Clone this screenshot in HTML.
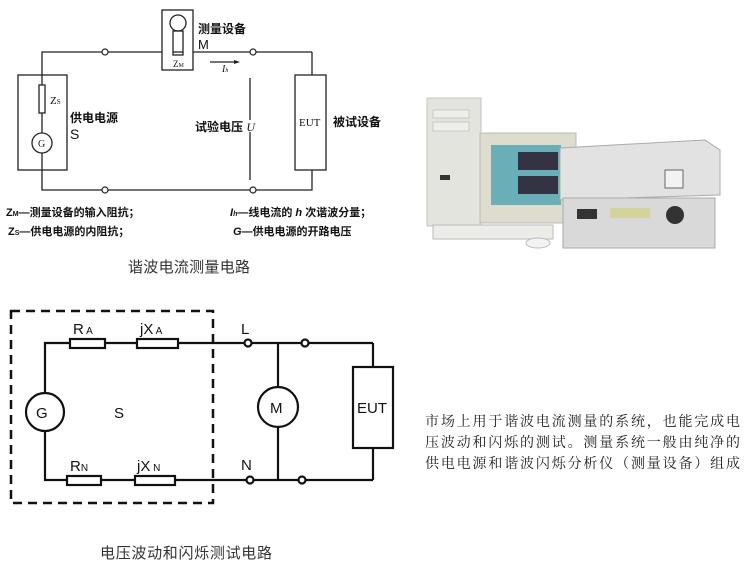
<!DOCTYPE html>
<html><head><meta charset="utf-8"><style>
body{margin:0;background:#fff;width:749px;height:563px;overflow:hidden;font-family:"Liberation Sans","Noto Sans CJK SC",sans-serif}
svg{position:absolute;left:0;top:0}
</style></head><body>
<svg width="749" height="563" xmlns="http://www.w3.org/2000/svg" font-family="Liberation Sans, Noto Sans CJK SC, sans-serif">
<g stroke="#222" stroke-width="1.3" fill="none">
<polyline points="42,75 42,52 162,52"/><line x1="193" y1="52" x2="312" y2="52"/><line x1="312" y1="52" x2="312" y2="75"/>
<polyline points="42,170 42,190 312,190 312,170"/>
<rect x="18" y="75" width="49" height="95"/>
<line x1="42" y1="75" x2="42" y2="85"/><rect x="39" y="85" width="6" height="28"/><line x1="42" y1="113" x2="42" y2="133"/>
<circle cx="42" cy="143" r="10"/><line x1="42" y1="153" x2="42" y2="170"/>
<rect x="162" y="10" width="31" height="60"/>
<circle cx="178" cy="23" r="8"/><rect x="173" y="31" width="10" height="24"/><line x1="173" y1="52" x2="183" y2="52"/>
<rect x="295" y="75" width="31" height="95"/>
<line x1="250" y1="78" x2="250" y2="120"/><line x1="250" y1="132" x2="250" y2="180"/>
<line x1="210" y1="62" x2="238" y2="62"/>
</g>
<polygon points="240,62 234,60 234,64" fill="#222"/>
<g fill="#fff" stroke="#222" stroke-width="1.2">
<circle cx="105" cy="52" r="3"/><circle cx="253" cy="52" r="3"/><circle cx="105" cy="190" r="3"/><circle cx="253" cy="190" r="3"/>
</g>
<g font-size="11" fill="#111">
<text x="38" y="147" font-size="10" font-family="Liberation Serif, serif">G</text>
<text x="50" y="104" font-family="Liberation Serif, serif">Z<tspan font-size="7">S</tspan></text>
<text x="70" y="122" font-size="12" font-weight="bold">供电电源</text>
<text x="70" y="139" font-size="14">S</text>
<text x="198" y="33" font-size="12" font-weight="bold">测量设备</text>
<text x="198" y="49" font-size="13">M</text>
<text x="173" y="67" font-size="9" font-family="Liberation Serif, serif">Z<tspan font-size="6">M</tspan></text>
<text x="222" y="72" font-size="10" font-style="italic" font-family="Liberation Serif, serif">I<tspan font-size="6">h</tspan></text>
<text x="195" y="131" font-size="12" font-weight="bold">试验电压 <tspan font-style="italic" font-weight="normal" font-family="Liberation Serif, serif">U</tspan></text>
<text x="299" y="126" font-size="11" font-family="Liberation Serif, serif">EUT</text>
<text x="333" y="126" font-size="12" font-weight="bold">被试设备</text>
<text x="6" y="216" font-size="11" font-weight="bold">Z<tspan font-size="7">M</tspan>—测量设备的输入阻抗；</text>
<text x="8" y="235" font-size="11" font-weight="bold">Z<tspan font-size="7">S</tspan>—供电电源的内阻抗；</text>
<text x="230" y="216" font-size="11" font-weight="bold"><tspan font-style="italic">I<tspan font-size="7">h</tspan></tspan>—线电流的 <tspan font-style="italic">h</tspan> 次谐波分量；</text>
<text x="233" y="235" font-size="11" font-weight="bold"><tspan font-style="italic">G</tspan>—供电电源的开路电压</text>
<text x="128" y="272" font-size="15" fill="#333" textLength="122">谐波电流测量电路</text>
</g>
<!-- photo -->
<g>
<rect x="427" y="98" width="54" height="128" fill="#e4e4de" stroke="#c4c4c0"/>
<rect x="433" y="110" width="36" height="8" fill="#eeeeea" stroke="#aaa" stroke-width=".5"/>
<rect x="433" y="122" width="36" height="9" fill="#eeeeea" stroke="#aaa" stroke-width=".5"/>
<rect x="440" y="175" width="10" height="5" fill="#333"/>
<rect x="480" y="133" width="96" height="90" fill="#dedccf" stroke="#bbb"/>
<rect x="491" y="145" width="70" height="60" fill="#6aaeb8"/>
<rect x="518" y="152" width="40" height="18" fill="#334"/>
<rect x="518" y="176" width="40" height="18" fill="#334"/>
<rect x="433" y="225" width="120" height="14" fill="#ececE8" stroke="#bbb"/>
<ellipse cx="538" cy="243" rx="12" ry="5" fill="#f2f2f2" stroke="#bbb"/>
<polygon points="560,148 705,140 720,150 720,195 560,200" fill="#e2e2e2" stroke="#aaa"/>
<rect x="563" y="198" width="152" height="50" fill="#d9d9d9" stroke="#aaa"/>
<rect x="610" y="208" width="40" height="10" fill="#d3d39a"/>
<circle cx="675" cy="215" r="9" fill="#333"/>
<rect x="577" y="209" width="20" height="10" fill="#333"/>
<rect x="665" y="170" width="18" height="18" fill="#f2f2f2" stroke="#666"/>
</g>
<!-- bottom circuit -->
<rect x="11" y="311" width="202" height="192" fill="none" stroke="#111" stroke-width="2.5" stroke-dasharray="9,6"/>
<g stroke="#111" stroke-width="2.2" fill="none">
<polyline points="45,393 45,343 70,343"/><line x1="105" y1="343" x2="137" y2="343"/><line x1="178" y1="343" x2="373" y2="343"/><line x1="373" y1="343" x2="373" y2="367"/>
<polyline points="45,431 45,480 67,480"/><line x1="101" y1="480" x2="135" y2="480"/><line x1="175" y1="480" x2="373" y2="480"/><line x1="373" y1="480" x2="373" y2="448"/>
<rect x="70" y="339" width="35" height="9" fill="#fff"/><rect x="137" y="339" width="41" height="9" fill="#fff"/>
<rect x="67" y="476" width="34" height="9" fill="#fff"/><rect x="135" y="476" width="40" height="9" fill="#fff"/>
<circle cx="45" cy="412" r="19" fill="#fff"/>
<line x1="278" y1="343" x2="278" y2="480"/>
<circle cx="278" cy="407" r="20" fill="#fff"/>
<rect x="353" y="367" width="40" height="81" fill="#fff"/>
<circle cx="248" cy="343" r="3.5" fill="#fff"/><circle cx="305" cy="343" r="3.5" fill="#fff"/>
<circle cx="250" cy="480" r="3.5" fill="#fff"/><circle cx="302" cy="480" r="3.5" fill="#fff"/>
</g>
<g fill="#111" font-size="15">
<text x="36" y="418">G</text><text x="114" y="418">S</text><text x="270" y="413">M</text><text x="357" y="413">EUT</text>
<text x="73" y="334">R<tspan font-size="10"> A</tspan></text>
<text x="140" y="334">jX<tspan font-size="10"> A</tspan></text>
<text x="241" y="334">L</text>
<text x="70" y="471">R<tspan font-size="10">N</tspan></text>
<text x="137" y="471">jX<tspan font-size="10"> N</tspan></text>
<text x="241" y="470">N</text>
<text x="100" y="558" font-size="15" fill="#333" textLength="172">电压波动和闪烁测试电路</text>
</g>
<g font-size="14" fill="#222" font-family="Liberation Serif, Noto Serif CJK SC, serif">
<text x="425" y="426" textLength="315">市场上用于谐波电流测量的系统，也能完成电</text>
<text x="425" y="447" textLength="315">压波动和闪烁的测试。测量系统一般由纯净的</text>
<text x="425" y="468" textLength="315">供电电源和谐波闪烁分析仪（测量设备）组成</text>
</g>
</svg>
</body></html>
